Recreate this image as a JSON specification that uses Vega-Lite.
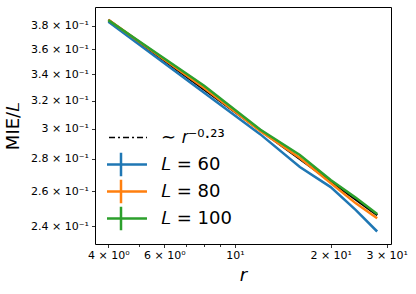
{
  "$schema": "https://vega.github.io/schema/vega-lite/v6.json",
  "width": 296,
  "height": 237,
  "autosize": {"type": "none"},
  "padding": {"left": 95, "top": 7, "right": 25, "bottom": 50},
  "background": "white",
  "config": {
    "font": "DejaVu Sans",
    "view": {"stroke": "#000", "strokeWidth": 1},
    "axis": {
      "domain": false,
      "grid": false,
      "tickColor": "#000",
      "tickWidth": 0.8,
      "tickSize": 3.5,
      "labelColor": "#000",
      "labelFont": "DejaVu Sans",
      "labelFontSize": 11,
      "titleFont": "DejaVu Sans",
      "titleFontSize": 18,
      "titleFontWeight": "normal",
      "titleColor": "#000"
    }
  },
  "data": {
    "values": [
      {"r": 4, "y": 0.3850, "s": "fit"},
      {"r": 28, "y": 0.2461, "s": "fit"},
      {"r": 4, "y": 0.3835, "s": "60"},
      {"r": 8, "y": 0.3258, "s": "60"},
      {"r": 12, "y": 0.2963, "s": "60"},
      {"r": 16, "y": 0.2748, "s": "60"},
      {"r": 20, "y": 0.2624, "s": "60"},
      {"r": 24, "y": 0.2489, "s": "60"},
      {"r": 28, "y": 0.2370, "s": "60"},
      {"r": 4, "y": 0.3852, "s": "80"},
      {"r": 8, "y": 0.3294, "s": "80"},
      {"r": 12, "y": 0.2984, "s": "80"},
      {"r": 16, "y": 0.2805, "s": "80"},
      {"r": 20, "y": 0.2649, "s": "80"},
      {"r": 24, "y": 0.2528, "s": "80"},
      {"r": 28, "y": 0.2443, "s": "80"},
      {"r": 4, "y": 0.3847, "s": "100"},
      {"r": 8, "y": 0.3310, "s": "100"},
      {"r": 12, "y": 0.2994, "s": "100"},
      {"r": 16, "y": 0.2825, "s": "100"},
      {"r": 20, "y": 0.2667, "s": "100"},
      {"r": 24, "y": 0.2560, "s": "100"},
      {"r": 28, "y": 0.2467, "s": "100"}
    ]
  },
  "encoding": {
    "x": {
      "field": "r", "type": "quantitative",
      "scale": {"type": "log", "domain": [3.63, 30.95], "nice": false, "zero": false},
      "axis": {
        "title": "r",
        "titleFontStyle": "italic",
        "titlePadding": 6,
        "values": [4, 5, 6, 7, 8, 9, 10, 20, 30],
        "labelPadding": 2,
        "labelFlush": false,
        "labelOverlap": false,
        "tickSize": {"condition": {"test": "datum.value == 10 || datum.value == 20 || datum.value == 30 || datum.value == 4 || datum.value == 6", "value": 3.5}, "value": 2.5},
        "labelExpr": "datum.value == 4 ? '4 × 10⁰' : datum.value == 6 ? '6 × 10⁰' : datum.value == 10 ? '10¹' : datum.value == 20 ? '2 × 10¹' : datum.value == 30 ? '3 × 10¹' : ''"
      }
    },
    "y": {
      "field": "y", "type": "quantitative",
      "scale": {"type": "log", "domain": [0.2303, 0.3966], "nice": false, "zero": false},
      "axis": {
        "title": "MIE/𝐿",
        "titlePadding": 8,
        "values": [0.24, 0.26, 0.28, 0.3, 0.32, 0.34, 0.36, 0.38],
        "labelPadding": 3,
        "labelFlush": false,
        "labelOverlap": false,
        "labelExpr": "format(datum.value * 10, '.1~f') + ' × 10⁻¹'"
      }
    }
  },
  "layer": [
    {
      "transform": [{"filter": "datum.s === 'fit'"}],
      "mark": {"type": "line", "color": "#000", "strokeWidth": 1.5, "strokeDash": [6, 3, 2, 3]},
      "encoding": {}
    },
    {
      "mark": {"type": "line", "strokeWidth": 2.5},
      "encoding": {
        "color": {
          "field": "s", "type": "nominal",
          "scale": {"domain": ["fit", "60", "80", "100"], "range": ["#000000", "#1f77b4", "#ff7f0e", "#2ca02c"]},
          "legend": {
            "title": null,
            "orient": "bottom-left",
            "offset": 12,
            "padding": 0,
            "labelFont": "DejaVu Sans",
            "labelFontSize": 18,
            "labelColor": "#000",
            "labelOffset": 31,
            "symbolOffset": 5,
            "symbolSize": 2700,
            "symbolStrokeWidth": 2.5,
            "symbolType": "M-1,0H1M0,-0.45V0.45",
            "rowPadding": 0,
            "clipHeight": 27,
            "labelExpr": "datum.value === 'fit' ? ' ∼ 𝑟⁻⁰·²³' : '𝐿 = ' + datum.value",
            "encode": {
              "symbols": {
                "update": {
                  "shape": {"signal": "datum.value === 'fit' ? 'stroke' : 'M-1,0H1M0,-0.45V0.45'"},
                  "strokeDash": {"signal": "datum.value === 'fit' ? [6, 3, 2, 3] : [1, 0]"},
                  "strokeWidth": {"signal": "datum.value === 'fit' ? 1.5 : 2.5"}
                }
              }
            }
          }
        }
      }
    }
  ]
}
